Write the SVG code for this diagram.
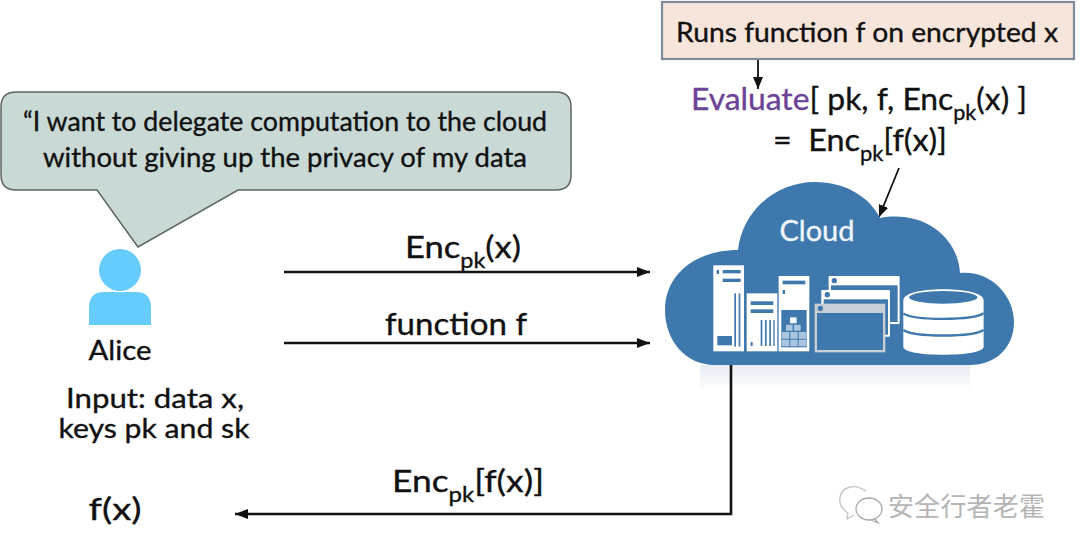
<svg xmlns="http://www.w3.org/2000/svg" width="1080" height="554" viewBox="0 0 1080 554">
<style>
text{font-family:"Lato","Noto Sans","Liberation Sans",sans-serif;fill:#111;stroke:#111;stroke-width:.35}
.m{font-size:31px;text-anchor:middle}
.b{font-size:27px;text-anchor:middle}
.s{font-size:21px}
.c{fill:none;stroke:#111;stroke-width:2.6}
.t{fill:none;stroke:#111;stroke-width:1.8}
.w{fill:#fff}
.d{fill:#3e78ac}
</style>
<defs>
<marker id="a" markerUnits="userSpaceOnUse" markerWidth="14" markerHeight="12" refX="13" refY="5" orient="auto"><path d="M0 0L13 5L0 10Z" fill="#111"/></marker>
<marker id="h" markerUnits="userSpaceOnUse" markerWidth="14" markerHeight="12" refX="12" refY="5" orient="auto"><path d="M0 0L12 5L0 10Z" fill="#111"/></marker>
<linearGradient id="r" x1="0" y1="0" x2="0" y2="1"><stop offset="0" stop-color="#e6edf3"/><stop offset="1" stop-color="#fff"/></linearGradient>
</defs>
<rect width="1080" height="554" fill="#fff"/>
<rect x="700" y="365" width="270" height="26" fill="url(#r)"/>

<g id="connectors">
<path class="c" d="M284 272H650" marker-end="url(#a)"/>
<path class="c" d="M284 343H650" marker-end="url(#a)"/>
<path class="c" d="M731 364V514H235" marker-end="url(#a)"/>
<path class="t" d="M758 59V89" marker-end="url(#h)"/>
<path class="t" d="M899 168L879 217" marker-end="url(#h)"/>
</g>

<g id="bubble">
<path d="M16 92H556Q571 92 571 107V175Q571 190 556 190H238L138 247L97 190H16Q1 190 1 175V107Q1 92 16 92Z" fill="#c9dad6" stroke="#5c6664" stroke-width="1.5"/>
<text class="b" x="285" y="131" textLength="524" lengthAdjust="spacingAndGlyphs">“I want to delegate computation to the cloud</text>
<text class="b" x="285" y="167" textLength="484" lengthAdjust="spacingAndGlyphs">without giving up the privacy of my data</text>
</g>

<g id="alice">
<circle cx="120" cy="270" r="21" fill="#66ccfb"/>
<path d="M89 325V308Q89 292 104 292H136Q151 292 151 308V325Z" fill="#66ccfb"/>
<text class="b" x="120" y="360" textLength="63" lengthAdjust="spacingAndGlyphs">Alice</text>
<text class="b" x="155" y="408" textLength="178" lengthAdjust="spacingAndGlyphs">Input: data x,</text>
<text class="b" x="154" y="438" textLength="191" lengthAdjust="spacingAndGlyphs">keys pk and sk</text>
</g>

<g id="fx"><text class="m" x="115" y="520" textLength="53" lengthAdjust="spacingAndGlyphs">f(x)</text></g>

<g id="label-enc-x"><text class="m" x="463" y="258" textLength="116" lengthAdjust="spacingAndGlyphs">Enc<tspan class="s" dy="10">pk</tspan><tspan dy="-10">(x)</tspan></text></g>
<g id="label-function"><text class="m" x="456" y="335" textLength="142" lengthAdjust="spacingAndGlyphs">function f</text></g>
<g id="label-enc-fx"><text class="m" x="468" y="492" textLength="152" lengthAdjust="spacingAndGlyphs">Enc<tspan class="s" dy="10">pk</tspan><tspan dy="-10">[f(x)]</tspan></text></g>

<g id="runs">
<rect x="662" y="2" width="412" height="57" fill="#f6e5da" stroke="#7d8b96" stroke-width="2.2"/>
<text class="b" x="867" y="42" textLength="382" lengthAdjust="spacingAndGlyphs">Runs function f on encrypted x</text>
</g>

<g id="evaluate">
<text class="m" x="859" y="110" textLength="336" lengthAdjust="spacingAndGlyphs"><tspan fill="#6a4397" stroke="#6a4397">Evaluate</tspan>[ pk, f, Enc<tspan class="s" dy="10">pk</tspan><tspan dy="-10">(x) ]</tspan></text>
<text class="m" x="860" y="151" textLength="174" lengthAdjust="spacingAndGlyphs" xml:space="preserve">=  Enc<tspan class="s" dy="10">pk</tspan><tspan dy="-10">[f(x)]</tspan></text>
</g>

<g id="cloud">
<path class="d" d="M715 365C685 365 665 340 665 310C665 275 695 250 738 250C742 212 775 182 815 182C845 182 870 197 880 218C925 210 958 238 960 273C990 270 1014 295 1014 322C1014 348 995 365 970 365Z"/>
<g transform="translate(650 180) scale(.3333)">
<rect class="w" x="190" y="256" width="92" height="258"/>
<rect class="d" x="200" y="270" width="7" height="12"/>
<rect class="d" x="218" y="270" width="54" height="10"/><rect class="d" x="218" y="296" width="54" height="10"/>
<rect class="d" x="253" y="340" width="5" height="160"/><rect class="d" x="266" y="340" width="5" height="160"/>
<rect class="d" x="202" y="468" width="44" height="28"/>
<rect class="w" x="290" y="340" width="92" height="174"/>
<rect class="d" x="302" y="364" width="68" height="11"/><rect class="d" x="302" y="388" width="68" height="11"/>
<path class="d" d="M332 420h5v78h-5zM345 420h5v78h-5zM358 420h5v78h-5zM370 420h4v78h-4z"/>
<rect class="d" x="302" y="486" width="6" height="12"/>
<rect class="w" x="386" y="288" width="92" height="226"/>
<rect class="d" x="398" y="302" width="68" height="11"/><rect class="d" x="398" y="330" width="7" height="12"/>
<rect class="d" x="394" y="390" width="76" height="112"/>
<rect x="420" y="412" width="20" height="18" fill="#f2f6f9"/>
<path fill="#a9c6de" d="M408 434h20v18h-20zM432 434h20v18h-20zM396 456h22v20h-22zM421 456h22v20h-22zM446 456h22v20h-22zM396 479h22v20h-22zM421 479h22v20h-22zM446 479h22v20h-22z"/>
<rect class="w" x="536" y="288" width="213" height="144" rx="3"/>
<rect class="d" x="543" y="316" width="200" height="110"/>
<rect class="w" x="514" y="330" width="206" height="140" rx="3"/>
<rect class="d" x="521" y="358" width="193" height="106"/>
<rect x="494" y="371" width="212" height="146" fill="#c9cfd6"/>
<rect class="d" x="501" y="399" width="198" height="111"/>
<circle cx="553" cy="302" r="8" class="d"/><circle cx="532" cy="344" r="8" class="d"/><circle cx="511" cy="385" r="8" class="d"/>
<path class="w" d="M760 362C760 340 810 328 880 328C950 328 1001 340 1001 362V500C1001 515 950 524 880 524C810 524 760 515 760 500Z"/>
<ellipse class="d" cx="880" cy="352" rx="103" ry="19"/>
<path fill="none" stroke="#3e78ac" stroke-width="7" d="M760 400C790 422 970 422 1001 400M760 450C790 472 970 472 1001 450"/>
</g>
<text x="817" y="241" font-size="29" text-anchor="middle" style="fill:#f0f5f9;stroke:#f0f5f9">Cloud</text>
</g>

<g id="watermark">
<path d="M866 491C860 487 854 486 850 487C842 489 839 495 840 503C841 507 845 511 848 513L847 519L854 515" fill="none" stroke="#c4c4c4" stroke-width="1.3"/>
<ellipse cx="869" cy="509" rx="13" ry="11" fill="#fff" stroke="#aaa" stroke-width="1.3"/>
<path d="M875 519L878 523L871 520" fill="none" stroke="#aaa" stroke-width="1.3"/>
<text x="888" y="516" font-size="26" style="font-family:'Noto Sans CJK SC',sans-serif;fill:#b4b4b4;stroke:none" textLength="157">安全行者老霍</text>
</g>
</svg>
